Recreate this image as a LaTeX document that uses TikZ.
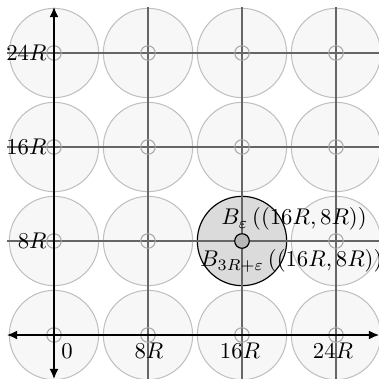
\documentclass[tikz,border=0pt]{standalone}
\usetikzlibrary{arrows.meta}
\tikzset{
  bigball/.style={circle, draw=black!25, fill=black!3, line width=0.45pt, minimum size=39.3pt, inner sep=0pt, outer sep=0pt},
  smallball/.style={circle, draw=black!35, line width=0.45pt, minimum size=6.4pt, inner sep=0pt, outer sep=0pt},
  hibig/.style={circle, draw=black, fill=black!14, line width=0.5pt, minimum size=39.3pt, inner sep=0pt, outer sep=0pt},
  hismall/.style={circle, draw=black, fill=black!28, line width=0.5pt, minimum size=6.4pt, inner sep=0pt, outer sep=0pt},
  gridline/.style={draw=black!60, line width=0.45pt},
  axisline/.style={draw=black, line width=0.6pt, {Latex[length=4.5pt,width=4pt]}-{Latex[length=4.5pt,width=4pt]}},
  lbl/.style={inner sep=0pt, font=\normalsize}
}
\begin{document}
\begin{tikzpicture}[x=0.44pt,y=-0.44pt]
\useasboundingbox (0,0) rectangle (379,379);
% big balls
\foreach \i in {0,1,2,3}{
  \foreach \j in {0,1,2,3}{
    \node[bigball] (c-\i-\j) at ({54+94*\i},{335-94*\j}) {};
  }
}
\node[hibig] (hb) at (242,241) {};
% grid lines
\foreach \i in {1,2,3}{
  \draw[gridline] ({54+94*\i},7) -- ({54+94*\i},379);
  \draw[gridline] (7,{335-94*\i}) -- (379,{335-94*\i});
}
% small balls
\foreach \i in {0,1,2,3}{
  \foreach \j in {0,1,2,3}{
    \node[smallball] (s-\i-\j) at ({54+94*\i},{335-94*\j}) {};
  }
}
\node[hismall] (hs) at (242,241) {};
% axes
\coordinate (xl) at (7,335);
\coordinate (xr) at (379,335);
\coordinate (yt) at (54,7);
\coordinate (yb) at (54,379);
\draw[axisline] (xl) -- (xr);
\draw[axisline] (yb) -- (yt);
% labels
\node[lbl, anchor=north west] (l0) at (61,343) {$0$};
\node[lbl, anchor=north] (lx1) at (149,343) {$8R$};
\node[lbl, anchor=north] (lx2) at (240,343) {$16R$};
\node[lbl, anchor=north] (lx3) at (333,343) {$24R$};
\node[lbl, anchor=east] (ly1) at (47,241) {$8R$};
\node[lbl, anchor=east] (ly2) at (47,147) {$16R$};
\node[lbl, anchor=east] (ly3) at (47,53) {$24R$};
\node[lbl, anchor=west] (b1) at (221,219) {$B_\varepsilon\left(\left(16R,8R\right)\right)$};
\node[lbl, anchor=west] (b2) at (200,261) {$B_{3R+\varepsilon}\left(\left(16R,8R\right)\right)$};
\end{tikzpicture}
\end{document}
